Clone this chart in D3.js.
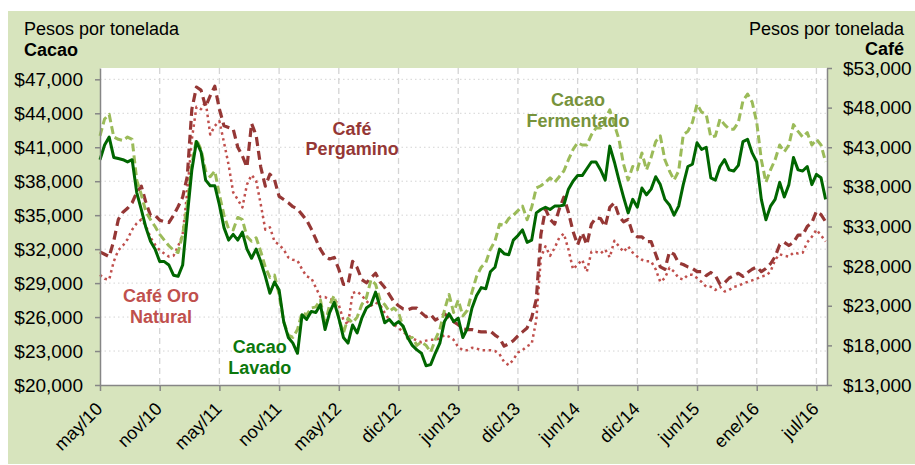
<!DOCTYPE html>
<html>
<head>
<meta charset="utf-8">
<script src="https://cdn.jsdelivr.net/npm/d3@7"></script>
<style>
  body { margin: 0; background: #fff; }
  svg { display: block; font-family: "Liberation Sans", Arial, sans-serif; }
</style>
</head>
<body>
<svg id="chart" width="915" height="465"></svg>
<script>
// Samples every two weeks, from may/10 to aug/16
const tickLabels = ['may/10', 'nov/10', 'may/11', 'nov/11', 'may/12', 'dic/12', 'jun/13',
                    'dic/13', 'jun/14', 'dic/14', 'jun/15', 'ene/16', 'jul/16'];
const samplesPerTick = 13;

const leftTicks = [20000, 23000, 26000, 29000, 32000, 35000, 38000, 41000, 44000, 47000];
const rightTicks = [13000, 18000, 23000, 28000, 33000, 38000, 43000, 48000, 53000];

// Cacao (left axis)
const cacaoLavado = [39900,41200,41900,40100,40000,39900,39700,39900,37000,35500,
  33900,32700,32000,30900,30900,30600,29700,29600,30600,34900,
  39000,41500,40600,38100,37600,37600,35900,33900,32800,33300,
  32800,33500,32000,31200,32000,30900,29600,28100,29100,28400,
  25600,24200,23700,22800,26200,25800,26500,26400,27100,24900,
  26400,27300,25900,24200,23700,25300,24600,25900,26800,27100,
  28200,26900,25500,25800,25300,25600,25200,24200,23500,23100,
  22800,21700,21800,22800,23700,25600,26300,25600,25900,24200,
  25000,26800,27900,28600,28500,30000,30400,32000,31600,31500,
  32800,33200,33700,32600,32800,35200,35500,35700,35500,35800,
  35800,35900,37300,38000,38500,38500,39100,39700,39700,39000,
  38100,41100,39700,38100,36600,35200,36400,35700,37400,36800,
  37300,38400,37700,36400,35900,35000,35800,37700,39300,39500,
  41400,40800,41000,38300,38100,39300,39900,39000,38900,39400,
  41500,41700,40500,39700,36400,34600,35800,36400,37900,36600,
  37700,40100,39000,38900,39300,37700,38600,38300,36400];

const cacaoFermentado = [42000,43500,43900,41900,41700,41600,41900,41700,38100,36800,
  35300,34600,34000,33300,32800,32300,31900,31700,33300,35900,
  39500,41700,40800,38900,38400,38900,36800,35000,33800,33700,
  34800,34600,33100,32700,33000,31800,30400,29500,29700,28000,
  25600,24400,24200,24900,26400,26200,26800,26900,27500,25300,
  27100,27900,25900,24600,25900,25500,26000,27100,27700,29300,
  28900,27500,27100,26500,26800,26400,25100,24100,24200,23500,
  23800,23500,22900,24000,24900,26600,28000,26400,27500,26100,
  26600,28200,29600,30400,30800,32000,32700,34200,34100,34700,
  35000,35400,35800,34600,35700,37400,37600,37900,38300,37900,
  38400,38900,39900,40800,41400,41200,41200,42100,42700,42700,
  43500,44300,43000,41700,39500,38100,39300,39000,40500,39000,
  40100,41500,42000,39900,38900,38100,38900,42100,42400,43200,
  44800,44100,43900,41900,42000,43500,43000,42600,42600,43200,
  45100,45700,45000,43200,39900,37900,39000,39900,41200,40600,
  41200,43000,42400,41900,42300,41200,41700,41200,39700];

// Café (right axis)
const cafePergamino = [29800,29500,29200,31200,33900,34800,35300,36000,37300,38100,
  36000,34400,34400,33800,33600,33500,34400,35500,36700,39300,
  47800,50600,50200,48100,49500,50700,47800,45700,45500,45300,
  43000,41900,40500,46000,44500,40500,38100,39600,38900,36800,
  36400,36000,35500,35200,34500,33800,32700,31400,30100,29200,
  28900,29100,27600,25700,25700,28600,27800,26300,25900,26500,
  27100,26000,25300,24400,23500,23000,22600,22500,22700,22700,
  22100,21600,21900,21200,21500,22000,21500,21000,20600,20100,
  20000,20000,19800,19700,19700,19800,19300,18900,17900,18200,
  18600,19200,19700,20200,21500,23800,32000,35200,33900,33300,
  35200,36700,34800,32400,30700,32200,30700,33300,34100,34000,
  33000,35400,36000,34300,33600,33900,32100,31700,31700,31100,
  31100,29500,27900,27600,29800,29500,28400,28200,27900,27700,
  27300,27300,26800,27200,26800,25700,25900,26500,26800,27100,
  26700,27200,27600,27900,27300,27700,28300,29200,30700,31000,
  30600,31000,31900,31900,33000,33500,34900,34500,33600];

const cafeOroNatural = [26900,26400,26300,28600,30000,30600,31400,32600,33400,33900,
  33100,31600,30700,30000,29600,29200,29300,30500,32000,37400,
  44000,48100,47800,48800,44600,45700,46300,43600,40800,37300,
  36400,35400,38300,39500,38800,35800,32600,32900,31100,30700,
  30100,29100,28800,28700,27600,26700,26500,25300,24100,24100,
  23800,23800,23100,21200,20600,24600,24800,24300,23600,23000,
  23400,23100,22100,21200,20600,20200,19700,19300,18900,18600,
  18400,18600,18700,18700,18900,19300,19100,18700,17800,17400,
  17400,17700,17600,17400,17400,17400,17300,16900,15900,15500,
  16200,17100,17400,17900,18200,21200,29100,30500,29300,30300,
  31600,32100,30100,27600,28200,28800,27300,29800,29800,29600,
  30100,29100,31200,30500,29800,30500,29700,29200,28800,28600,
  28600,27600,26000,26500,27800,27300,26500,26300,26900,26900,
  26500,26000,25400,25400,25000,25400,24800,25000,25400,25500,
  25800,26000,26200,26400,26700,26800,27300,28800,29500,29300,
  29200,29700,29600,29700,31000,31700,32600,31900,31100];

// Series labels: [lines, sample index, value on left axis]
const seriesLabels = [
  { lines: ['Cacao', 'Fermentado'], at: 104.1, value: 44600, color: '#77933c' },
  { lines: ['Café', 'Pergamino'], at: 54.9, value: 42100, color: '#953735' },
  { lines: ['Café Oro', 'Natural'], at: 13.3, value: 27300, color: '#c0504d' },
  { lines: ['Cacao', 'Lavado'], at: 34.8, value: 22800, color: '#0c780c' }
];

const plot = { left: 100, right: 827, top: 68, bottom: 385 };

const svg = d3.select('#chart');

// background panel
svg.append('rect')
    .attr('x', 8).attr('y', 11)
    .attr('width', 907).attr('height', 453)
    .attr('fill', '#d7e4bd');

svg.append('rect')
    .attr('x', plot.left).attr('y', plot.top)
    .attr('width', plot.right - plot.left).attr('height', plot.bottom - plot.top)
    .attr('fill', '#ffffff');

const x = d3.scaleLinear()
    .domain([0, 158.3])
    .range([plot.left, plot.right]);

const yLeft = d3.scaleLinear()
    .domain([20000, 48000])
    .range([plot.bottom, plot.top]);

const yRight = d3.scaleLinear()
    .domain([13000, 53000])
    .range([plot.bottom, plot.top]);

const tickIdx = tickLabels.map((d, i) => i * samplesPerTick);

// gridlines
svg.append('g')
    .selectAll('line')
    .data(leftTicks.slice(1))
    .enter()
    .append('line')
    .attr('x1', plot.left).attr('x2', plot.right)
    .attr('y1', d => yLeft(d)).attr('y2', d => yLeft(d))
    .attr('stroke', '#d4d4d4')
    .attr('stroke-width', 1)
    .attr('stroke-dasharray', '1.5,3');

svg.append('g')
    .selectAll('line')
    .data(tickIdx.slice(1))
    .enter()
    .append('line')
    .attr('x1', d => x(d)).attr('x2', d => x(d))
    .attr('y1', plot.top).attr('y2', plot.bottom)
    .attr('stroke', '#d4d4d4')
    .attr('stroke-width', 1.3)
    .attr('stroke-dasharray', '6,4');

// lines
const lineLeft = d3.line().x((d, i) => x(i)).y(d => yLeft(d));
const lineRight = d3.line().x((d, i) => x(i)).y(d => yRight(d));

const series = [
  { data: cafeOroNatural, line: lineRight, color: '#c0504d', width: 2.5, dash: '2.5,3.5' },
  { data: cafePergamino, line: lineRight, color: '#953735', width: 3.2, dash: '9,5' },
  { data: cacaoFermentado, line: lineLeft, color: '#9bbb59', width: 3, dash: '8,4' },
  { data: cacaoLavado, line: lineLeft, color: '#006600', width: 3, dash: null }
];

series.forEach(s => {
    svg.append('path')
        .datum(s.data)
        .attr('fill', 'none')
        .attr('stroke', s.color)
        .attr('stroke-width', s.width)
        .attr('stroke-dasharray', s.dash)
        .attr('stroke-linejoin', 'round')
        .attr('d', s.line);
});

// axes
const axisColor = '#868686';

const gLeft = svg.append('g')
    .attr('transform', `translate(${plot.left},0)`)
    .call(d3.axisLeft(yLeft).tickValues(leftTicks).tickFormat(d3.format('$,'))
        .tickSize(5).tickSizeOuter(0).tickPadding(12));

const gRight = svg.append('g')
    .attr('transform', `translate(${plot.right},0)`)
    .call(d3.axisRight(yRight).tickValues(rightTicks).tickFormat(d3.format('$,'))
        .tickSize(5).tickSizeOuter(0).tickPadding(11));

const gBottom = svg.append('g')
    .attr('transform', `translate(0,${plot.bottom})`)
    .call(d3.axisBottom(x).tickValues(tickIdx).tickFormat((d, i) => tickLabels[i])
        .tickSize(6).tickSizeOuter(0));

gBottom.selectAll('text')
    .attr('x', 0).attr('y', 0).attr('dy', null)
    .attr('text-anchor', 'end')
    .attr('transform', 'translate(3,25) rotate(-45)');

[gLeft, gRight, gBottom].forEach(g => {
    g.select('.domain').attr('stroke', axisColor).attr('stroke-width', 1.5);
    g.selectAll('.tick line').attr('stroke', axisColor).attr('stroke-width', 1.5);
    g.selectAll('text')
        .attr('fill', '#000')
        .style('font-family', '"Liberation Sans", Arial, sans-serif')
        .style('font-size', '19px');
});
gBottom.selectAll('text').style('font-size', '18px');

// axis titles
svg.append('text')
    .attr('x', 24).attr('y', 35)
    .style('font-size', '18px')
    .text('Pesos por tonelada');
svg.append('text')
    .attr('x', 24).attr('y', 56)
    .style('font-size', '18px').style('font-weight', 'bold')
    .text('Cacao');
svg.append('text')
    .attr('x', 904).attr('y', 35)
    .attr('text-anchor', 'end')
    .style('font-size', '18px')
    .text('Pesos por tonelada');
svg.append('text')
    .attr('x', 904).attr('y', 55)
    .attr('text-anchor', 'end')
    .style('font-size', '18px').style('font-weight', 'bold')
    .text('Café');

// series labels
seriesLabels.forEach(l => {
    const t = svg.append('text')
        .attr('text-anchor', 'middle')
        .attr('fill', l.color)
        .style('font-size', '18px')
        .style('font-weight', 'bold');
    l.lines.forEach((s, i) => {
        t.append('tspan')
            .attr('x', x(l.at))
            .attr('y', yLeft(l.value) + i * 20.5)
            .text(s);
    });
});
</script>
</body>
</html>
